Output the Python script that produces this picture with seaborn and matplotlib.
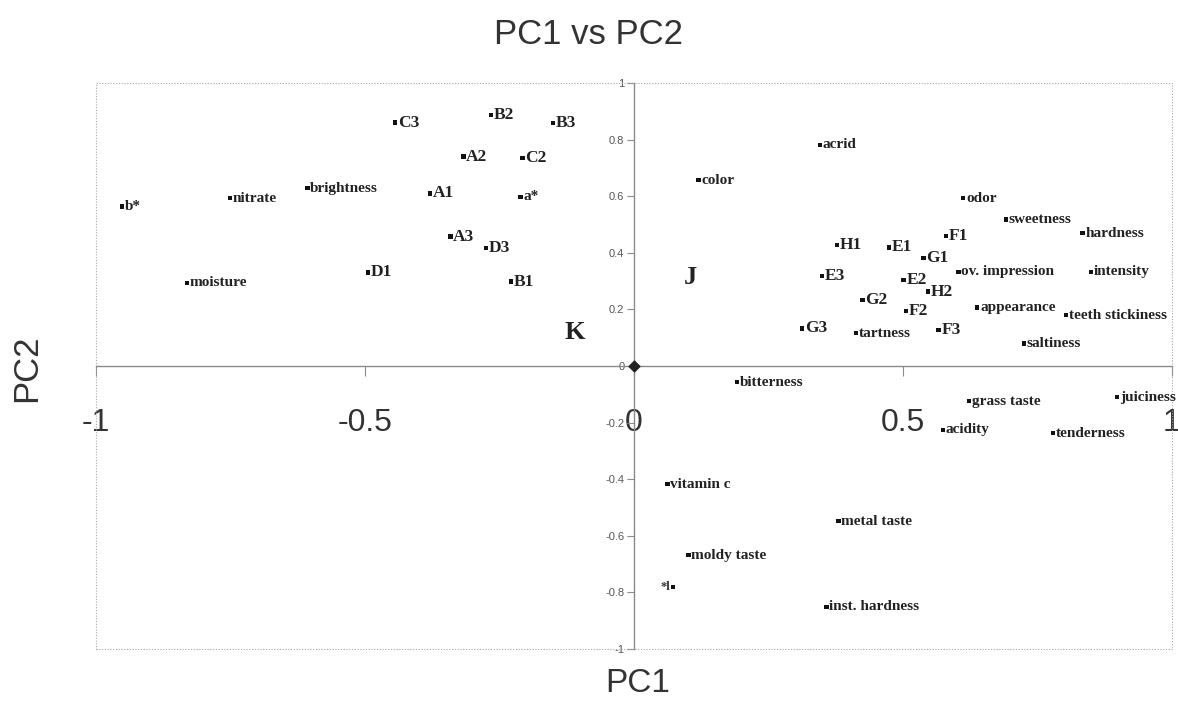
import matplotlib
matplotlib.use("Agg")
import matplotlib.pyplot as plt
from matplotlib.patches import Rectangle
import seaborn as sns
import pandas as pd

# PCA loadings / scores
labels = ["b*", "nitrate", "brightness", "C3", "A2", "A1", "A3", "D1", "moisture",
          "B2", "B3", "C2", "a*", "D3", "B1",
          "acrid", "color", "H1", "E1", "F1", "G1", "E3", "E2", "H2", "G2", "F2",
          "G3", "tartness", "F3", "odor", "sweetness", "hardness", "ov. impression",
          "intensity", "appearance", "teeth stickiness", "saltiness",
          "bitterness", "grass taste", "juiciness", "acidity", "tenderness",
          "vitamin c", "metal taste", "moldy taste", "*l", "inst. hardness"]
pc1 = [-0.952, -0.751, -0.607, -0.444, -0.317, -0.379, -0.341, -0.494, -0.831,
       -0.266, -0.150, -0.207, -0.211, -0.275, -0.229,
       0.346, 0.120, 0.377, 0.474, 0.580, 0.538, 0.349, 0.501, 0.547, 0.425, 0.506,
       0.312, 0.413, 0.566, 0.612, 0.691, 0.834, 0.603,
       0.849, 0.638, 0.803, 0.725,
       0.191, 0.623, 0.898, 0.574, 0.779,
       0.062, 0.380, 0.101, 0.073, 0.358]
pc2 = [0.563, 0.593, 0.628, 0.860, 0.740, 0.610, 0.457, 0.331, 0.294,
       0.887, 0.858, 0.736, 0.598, 0.418, 0.298,
       0.781, 0.657, 0.428, 0.419, 0.459, 0.381, 0.318, 0.304, 0.263, 0.233, 0.195,
       0.133, 0.116, 0.127, 0.593, 0.518, 0.469, 0.333,
       0.333, 0.207, 0.180, 0.080,
       -0.057, -0.124, -0.110, -0.226, -0.237,
       -0.417, -0.548, -0.668, -0.780, -0.851]

samples = ["A1", "A2", "A3", "B1", "B2", "B3", "C2", "C3", "D1", "D3",
           "E1", "E2", "E3", "F1", "F2", "F3", "G1", "G2", "G3", "H1", "H2"]

# group letters written inside the plot
region_names = ["K", "J"]
region_x = [-0.110, 0.104]
region_y = [0.117, 0.314]

xticks = [-1, -0.5, 0, 0.5, 1]
xtick_labels = ["-1", "-0.5", "0", "0.5", "1"]
yticks = [-1, -0.8, -0.6, -0.4, -0.2, 0, 0.2, 0.4, 0.6, 0.8, 1]
ytick_labels = ["-1", "-0.8", "-0.6", "-0.4", "-0.2", "0", "0.2", "0.4", "0.6", "0.8", "1"]

sns.set_theme(style="white")
plt.rcParams["font.family"] = ["Liberation Sans", "DejaVu Sans"]

df = pd.DataFrame({"label": labels, "PC1": pc1, "PC2": pc2})

fig = plt.figure(figsize=(11.78, 7.01), dpi=100)
ax = fig.add_axes([0.0815, 0.0742, 0.9134, 0.8074])

sns.scatterplot(data=df, x="PC1", y="PC2", marker="s", s=10, color="#111111",
                edgecolor="none", legend=False, ax=ax, zorder=3)

for lab, x, y in zip(labels, pc1, pc2):
    size = 12.5 if lab in samples else 11
    if lab == "*l":
        ax.annotate(lab, (x, y), xytext=(-2.5, 0), textcoords="offset points",
                    ha="right", va="center", fontsize=9, fontweight="bold",
                    family="Liberation Serif", color="#333333", annotation_clip=False)
    else:
        ax.annotate(lab, (x, y), xytext=(2, 0), textcoords="offset points",
                    ha="left", va="center", fontsize=size, fontweight="bold",
                    family="Liberation Serif", color="#222222", annotation_clip=False)

for name, x, y in zip(region_names, region_x, region_y):
    ax.text(x, y, name, fontsize=19, fontweight="bold", family="Liberation Serif",
            color="#222222", ha="center", va="center")

# origin marker
ax.scatter([0], [0], marker="D", s=30, color="#222222", zorder=4)

ax.set_xlim(-1, 1)
ax.set_ylim(-1, 1)

for side in ["top", "right"]:
    ax.spines[side].set_visible(False)
for side in ["left", "bottom"]:
    ax.spines[side].set_position(("data", 0))
    ax.spines[side].set_color("#8a8a8a")
    ax.spines[side].set_linewidth(1.0)

# dotted plot-area frame
ax.add_patch(Rectangle((0, 0), 1, 1, transform=ax.transAxes, fill=False,
                       ls=(0, (1, 1.5)), lw=0.8, ec="#a5a5a5", clip_on=False))

ax.set_xticks(xticks)
ax.set_xticklabels(xtick_labels)
ax.set_yticks(yticks)
ax.set_yticklabels(ytick_labels)
ax.tick_params(axis="x", direction="out", length=7, width=0.8, color="#8a8a8a",
               labelsize=23, labelcolor="#333333", pad=23, bottom=True)
ax.tick_params(axis="y", direction="out", length=5, width=0.8, color="#8a8a8a",
               labelsize=8, labelcolor="#555555", pad=2, left=True)

ax.set_xlabel("")
ax.set_ylabel("")
fig.text(0.5, 0.951, "PC1 vs PC2", ha="center", va="center", fontsize=25, color="#333333")
fig.text(0.023, 0.475, "PC2", ha="center", va="center", rotation=90, fontsize=25, color="#333333")
fig.text(0.541, 0.025, "PC1", ha="center", va="center", fontsize=24, color="#333333")

fig.savefig("out.png", dpi=100)
